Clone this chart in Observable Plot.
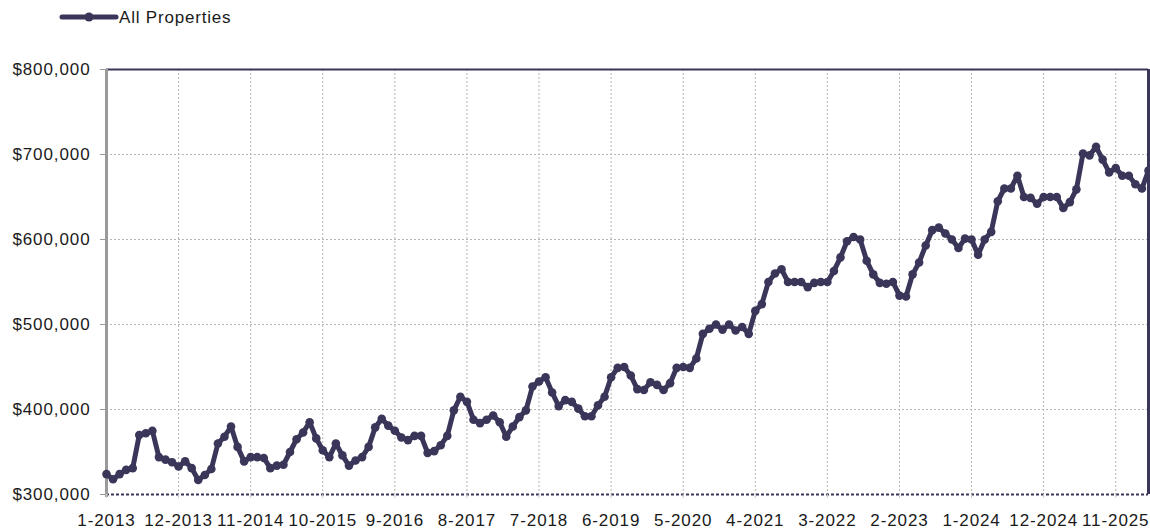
<!DOCTYPE html>
<html>
<head>
<meta charset="utf-8">
<script src="https://cdn.jsdelivr.net/npm/d3@7"></script>
<script src="https://cdn.jsdelivr.net/npm/@observablehq/plot@0.6"></script>
<style>
  html, body { margin: 0; padding: 0; background: #fff; }
  body { width: 1150px; height: 530px; overflow: hidden; font-family: "Liberation Sans", Arial, Helvetica, sans-serif; }
  #legend { position: relative; height: 34px; }
  #legend svg { position: absolute; left: 0; top: 0; }
  #chart svg { display: block; }
  #chart svg text { letter-spacing: 0.9px; }
</style>
</head>
<body>
<div id="legend"></div>
<div id="chart"></div>
<script>
const seriesName = "All Properties";
// Monthly values (thousands of $), Jan 2013 onward
const values = [
  324, 318, 324, 329, 331, 370, 372, 375, 344, 341, 338, 333,
  339, 331, 317, 323, 330, 360, 368, 380, 356, 339, 344, 344,
  343, 331, 334, 335, 350, 365, 373, 385, 366, 352, 344, 360,
  346, 334, 340, 344, 356, 379, 389, 381, 375, 367, 364, 369,
  369, 349, 351, 358, 369, 399, 415, 409, 388, 384, 388, 393,
  385, 368, 380, 391, 399, 427, 433, 438, 420, 404, 411, 409,
  401, 392, 392, 405, 415, 438, 449, 450, 440, 424, 423, 432,
  429, 423, 431, 449, 450, 449, 460, 489, 495, 500, 494, 500,
  493, 497, 489, 516, 524, 550, 560, 565, 550, 550, 550, 544,
  549, 550, 550, 563, 579, 598, 603, 600, 575, 559, 549, 548,
  550, 534, 533, 559, 573, 593, 611, 614, 607, 600, 590, 601,
  600, 582, 600, 609, 645, 660, 660, 675, 650, 649, 642, 650,
  650, 650, 637, 644, 659, 701, 699, 709, 694, 679, 684, 675,
  675, 665, 660, 681
];
const tickIndex = [0, 11, 22, 33, 44, 55, 66, 77, 88, 99, 110, 121, 132, 143, 154];
const tickLabels = ["1-2013", "12-2013", "11-2014", "10-2015", "9-2016", "8-2017", "7-2018", "6-2019",
  "5-2020", "4-2021", "3-2022", "2-2023", "1-2024", "12-2024", "11-2025"];
const yTicks = [300000, 400000, 500000, 600000, 700000, 800000];

const navy = "#3a3659";
const data = values.map((v, i) => ({i, v: v * 1000}));
const fmt = d => "$" + d3.format(",")(d);

// legend
const lg = d3.select("#legend").append("svg").attr("width", 400).attr("height", 34);
lg.append("line").attr("x1", 62).attr("x2", 116).attr("y1", 17).attr("y2", 17)
  .attr("stroke", navy).attr("stroke-width", 5).attr("stroke-linecap", "round");
lg.append("circle").attr("cx", 89).attr("cy", 17).attr("r", 4.5).attr("fill", navy);
lg.append("text").attr("x", 119).attr("y", 23).attr("font-size", 17).attr("letter-spacing", "0.8px")
  .attr("fill", "#1a1a1a").attr("font-family", '"Liberation Sans", Arial, sans-serif').text(seriesName);

const chart = Plot.plot({
  width: 1150,
  height: 496,
  marginTop: 35,
  marginBottom: 36,
  marginLeft: 106,
  marginRight: 2,
  style: {fontFamily: '"Liberation Sans", Arial, sans-serif', fontSize: "17px", color: "#1a1a1a", background: "#fff"},
  x: {domain: [0, values.length - 1], axis: null},
  y: {domain: [300000, 800000], axis: null},
  marks: [
    Plot.gridX(tickIndex, {stroke: "#b5b5b5", strokeOpacity: 1, strokeDasharray: "2,2", strokeWidth: 1}),
    Plot.gridY(yTicks.slice(1, -1), {stroke: "#b5b5b5", strokeOpacity: 1, strokeDasharray: "2,2", strokeWidth: 1}),
    Plot.ruleY([300000], {stroke: navy, strokeDasharray: "3,2", strokeWidth: 2}),
    Plot.ruleY([800000], {stroke: navy, strokeWidth: 2}),
    Plot.ruleX([values.length - 1], {stroke: navy, strokeWidth: 3}),
    Plot.ruleX([0], {stroke: "#9a9a9a", strokeWidth: 3, y1: 800000, y2: 300000, insetBottom: -3}),
    Plot.axisY(yTicks, {label: null, tickFormat: fmt, tickSize: 6, tickPadding: 10, stroke: "#9a9a9a", fill: "#1a1a1a", fontSize: 17}),
    Plot.axisX(tickIndex, {label: null, tickFormat: d => tickLabels[tickIndex.indexOf(d)], tickSize: 4, tickPadding: 15, stroke: "#cccccc", fill: "#1a1a1a", fontSize: 17}),
    Plot.line(data, {x: "i", y: "v", stroke: navy, strokeWidth: 5, strokeLinejoin: "round"}),
    Plot.dot(data, {x: "i", y: "v", r: 4.3, fill: navy, stroke: "none"})
  ]
});
document.getElementById("chart").appendChild(chart);
</script>
</body>
</html>
